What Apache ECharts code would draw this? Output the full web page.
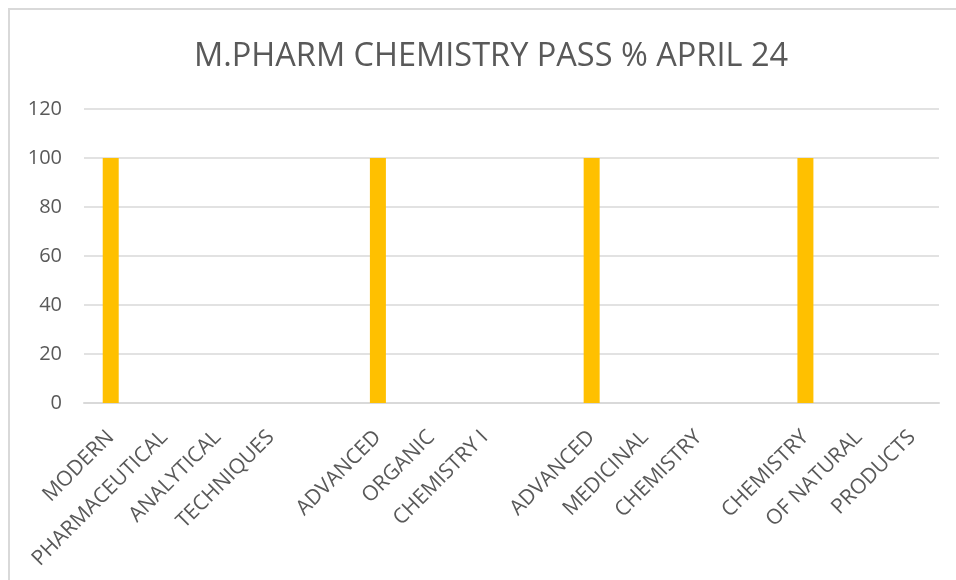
<!DOCTYPE html>
<html>
<head>
<meta charset="utf-8">
<script src="https://cdn.jsdelivr.net/npm/echarts@6/dist/echarts.min.js"></script>
<style>
  html, body { margin: 0; padding: 0; background: #fff; overflow: hidden; }
  #frame { position: absolute; left: 8px; top: 8px; width: 1000px; height: 600px; border: 2px solid #d9d9d9; box-sizing: border-box; }
  #chart { position: absolute; left: 0; top: 0; width: 956px; height: 580px; }
</style>
</head>
<body>
<div id="frame"></div>
<div id="chart"></div>
<script>
// category labels (each subject name split over several slots, as in the sheet)
const categories = [
  'MODERN', 'PHARMACEUTICAL', 'ANALYTICAL', 'TECHNIQUES', '',
  'ADVANCED', 'ORGANIC', 'CHEMISTRY I', '',
  'ADVANCED', 'MEDICINAL', 'CHEMISTRY', '',
  'CHEMISTRY', 'OF NATURAL', 'PRODUCTS'
];
const passPercent = [100, 0, 0, 0, 0, 100, 0, 0, 0, 100, 0, 0, 0, 100, 0, 0];
const yTicks = { min: 0, max: 120, step: 20 };

const myChart = echarts.init(document.getElementById('chart'));
myChart.setOption({
  animation: false,
  title: {
    text: 'M.PHARM CHEMISTRY PASS % APRIL 24',
    left: 189,
    top: 35,
    textStyle: { fontFamily: 'Open Sans', fontWeight: 'normal', fontSize: 32.5, color: '#595959' }
  },
  grid: { left: 84, right: 17, top: 109, bottom: 177 },
  xAxis: {
    type: 'category',
    data: categories,
    axisTick: { show: false },
    axisLine: { lineStyle: { color: '#d9d9d9', width: 2 } },
    axisLabel: {
      interval: 0,
      rotate: 45,
      margin: 31,
      fontFamily: 'Open Sans',
      fontSize: 21,
      color: '#595959'
    }
  },
  yAxis: {
    type: 'value',
    min: yTicks.min,
    max: yTicks.max,
    interval: yTicks.step,
    axisLine: { show: false },
    axisTick: { show: false },
    splitLine: { lineStyle: { color: '#d9d9d9', width: 1.5 } },
    axisLabel: { margin: 22, fontFamily: 'Open Sans', fontSize: 20, color: '#595959' }
  },
  series: [{
    type: 'bar',
    data: passPercent,
    barWidth: 16,
    itemStyle: { color: '#FFC000' }
  }]
});
</script>
</body>
</html>
